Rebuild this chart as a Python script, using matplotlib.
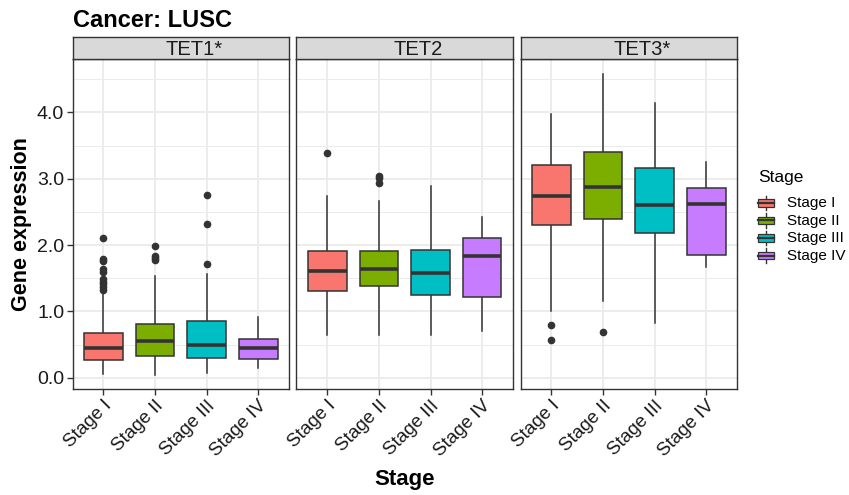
import matplotlib
matplotlib.use("Agg")
import matplotlib.pyplot as plt
from matplotlib.legend_handler import HandlerBase
from matplotlib.patches import Rectangle
from matplotlib.lines import Line2D

plt.rcParams["font.family"] = ["Liberation Sans", "DejaVu Sans"]

# data
genes = ["TET1*", "TET2", "TET3*"]
stages = ["Stage I", "Stage II", "Stage III", "Stage IV"]
colors = ["#F8766D", "#7CAE00", "#00BFC4", "#C77CFF"]

# one row per gene, one value per stage
q1 = [[0.27, 0.33, 0.30, 0.29],
      [1.31, 1.39, 1.25, 1.22],
      [2.30, 2.39, 2.19, 1.855]]
med = [[0.45, 0.55, 0.50, 0.45],
       [1.61, 1.64, 1.58, 1.83],
       [2.745, 2.88, 2.60, 2.62]]
q3 = [[0.68, 0.81, 0.855, 0.58],
      [1.91, 1.91, 1.93, 2.10],
      [3.20, 3.41, 3.16, 2.86]]
whislo = [[0.06, 0.05, 0.07, 0.15],
          [0.64, 0.64, 0.64, 0.71],
          [1.00, 1.16, 0.82, 1.665]]
whishi = [[1.26, 1.54, 1.56, 0.92],
          [2.74, 2.66, 2.89, 2.42],
          [3.98, 4.58, 4.14, 3.26]]
fliers = [[[2.10, 1.79, 1.76, 1.64, 1.60, 1.49, 1.45, 1.41, 1.37, 1.33],
           [1.99, 1.83, 1.80, 1.78],
           [2.75, 2.32, 1.71],
           []],
          [[3.39], [3.04, 3.01, 2.93], [], []],
          [[0.79, 0.57], [0.69], [], []]]

yticks = [0.0, 1.0, 2.0, 3.0, 4.0]
yminor = [0.5, 1.5, 2.5, 3.5, 4.5]

W, H = 849, 495
fig = plt.figure(figsize=(W / 100, H / 100), dpi=100)

lefts = [72.5, 296.3, 520.5]
pw = 216.8
ptop, pbot = 59.3, 389.0
stop = 37.3
dark = "#333333"

for g in range(3):
    ax = fig.add_axes([lefts[g] / W, (H - pbot) / H, pw / W, (pbot - ptop) / H])
    stats = []
    for s in range(4):
        stats.append(dict(q1=q1[g][s], med=med[g][s], q3=q3[g][s],
                          whislo=whislo[g][s], whishi=whishi[g][s],
                          fliers=fliers[g][s]))
    bp = ax.bxp(stats, positions=[1, 2, 3, 4], widths=0.75, patch_artist=True,
                showcaps=False,
                boxprops=dict(edgecolor=dark, linewidth=1.1),
                whiskerprops=dict(color=dark, linewidth=1.1),
                medianprops=dict(color=dark, linewidth=2.6, solid_capstyle="butt"),
                flierprops=dict(marker="o", markersize=4.5, markerfacecolor=dark,
                                markeredgecolor=dark, linestyle="none"))
    for patch, c in zip(bp["boxes"], colors):
        patch.set_facecolor(c)
    for w in bp["whiskers"]:
        w.set_zorder(1.5)

    ax.set_xlim(0.4, 4.6)
    ax.set_ylim(-0.168, 4.80)
    ax.set_yticks(yticks)
    ax.set_yticks(yminor, minor=True)
    ax.set_xticks([1, 2, 3, 4])
    ax.set_xticklabels(stages, rotation=45, ha="right", va="top",
                       rotation_mode="anchor", fontsize=13.5, color="#1A1A1A")
    ax.grid(True, which="major", color="#EBEBEB", linewidth=1.3, zorder=0)
    ax.grid(True, which="minor", axis="y", color="#EBEBEB", linewidth=0.7, zorder=0)
    ax.set_axisbelow(True)
    ax.tick_params(axis="x", length=4, width=1, color=dark, pad=2)
    ax.tick_params(axis="y", which="minor", length=0)
    if g == 0:
        ax.set_yticklabels(["%.1f" % v for v in yticks], fontsize=14, color="#1A1A1A")
        ax.tick_params(axis="y", which="major", length=4, width=1, color=dark, pad=2)
    else:
        ax.tick_params(axis="y", which="major", length=0, labelleft=False)
    for sp in ax.spines.values():
        sp.set_color(dark)
        sp.set_linewidth(1.0)

    # facet strip
    sax = fig.add_axes([lefts[g] / W, (H - ptop) / H, pw / W, (ptop - stop) / H])
    sax.set_facecolor("#D9D9D9")
    sax.set_xticks([])
    sax.set_yticks([])
    for sp in sax.spines.values():
        sp.set_color(dark)
        sp.set_linewidth(1.0)
    sax.text(0.5 + 13 / pw, 0.45, genes[g], ha="center", va="center", fontsize=14.5,
             color="#1A1A1A", transform=sax.transAxes)

fig.text(72.7 / W, 1 - 27 / H, "Cancer: LUSC", fontsize=17, fontweight="bold",
         ha="left", va="baseline")
fig.text(22 / W, 1 - (ptop + pbot) / 2 / H, "Gene expression", fontsize=15.5,
         fontweight="bold", rotation=90, ha="center", va="center")
fig.text((lefts[1] + pw / 2) / W, 1 - 480 / H, "Stage", fontsize=16,
         fontweight="bold", ha="center", va="center")


class BoxKey(HandlerBase):
    def create_artists(self, legend, orig, xd, yd, width, height, fontsize, trans):
        c = orig.get_facecolor()
        bh = height * 0.75
        y0 = yd + (height - bh) / 2
        wl = Line2D([xd + width / 2] * 2, [yd - height * 0.25, yd + height * 1.25],
                    color=dark, lw=1.0, transform=trans)
        r = Rectangle((xd, y0), width, bh, facecolor=c, edgecolor=dark,
                      lw=0.9, transform=trans)
        m = Line2D([xd, xd + width], [yd + height / 2] * 2, color=dark, lw=1.6,
                   transform=trans)
        return [wl, r, m]


fig.text(758 / W, 1 - 177 / H, "Stage", fontsize=12.5, ha="left", va="center")
handles = [Rectangle((0, 0), 1, 1, facecolor=c) for c in colors]
leg = fig.legend(handles, stages, loc="upper left",
                 bbox_to_anchor=(756 / W, 1 - 194 / H), frameon=False,
                 fontsize=11, handler_map={Rectangle: BoxKey()},
                 handlelength=1.0, handleheight=0.6, handletextpad=0.9,
                 labelspacing=0.23, borderpad=0.15, borderaxespad=0)

fig.savefig("out.png", dpi=100)
